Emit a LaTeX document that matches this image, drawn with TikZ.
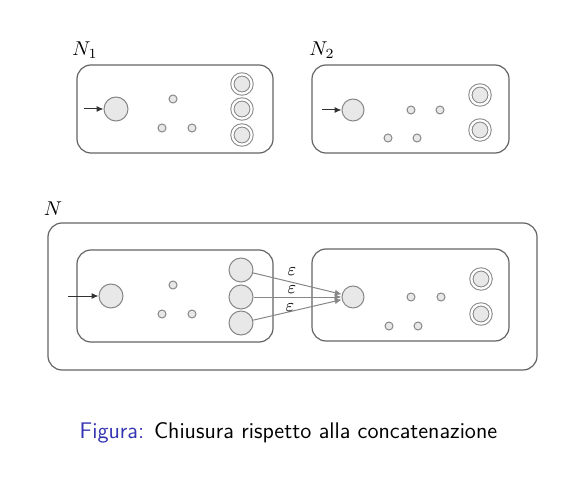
\documentclass[tikz,border=0pt]{standalone}
\usetikzlibrary{arrows.meta}
\definecolor{boxgray}{RGB}{100,100,100}
\definecolor{stgray}{RGB}{135,135,135}
\definecolor{stfill}{RGB}{232,232,232}
\definecolor{figblue}{RGB}{51,51,178}
\begin{document}
\begin{tikzpicture}[x=0.5pt,y=-0.5pt,
  box/.style={draw=boxgray, line width=0.6pt, rounded corners=7pt},
  bigst/.style={circle, draw=stgray, fill=stfill, line width=0.5pt, minimum size=12pt, inner sep=0pt},
  smallst/.style={circle, draw=stgray, fill=stfill, line width=0.5pt, minimum size=4pt, inner sep=0pt},
  accst/.style={circle, draw=stgray, fill=stfill, line width=0.5pt, minimum size=9.6pt, inner sep=0pt, double=white, double distance=1.1pt},
  initarr/.style={-{Latex[length=3.5pt,width=3pt]}, line width=0.5pt, draw=black!80},
  epsarr/.style={-{Latex[length=3.5pt,width=3pt]}, line width=0.5pt, draw=stgray},
  lbl/.style={inner sep=0pt},
  epslbl/.style={font=\small, inner sep=0pt}]
\useasboundingbox (0,0) rectangle (588,486);

% ---------- N1 ----------
\node[lbl] (labN1) at (85,50) {$N_1$};
\draw[box] (77,65) rectangle (273,153);
\node[bigst] (a0) at (116,109) {};
\coordinate (a0in) at (84,109);
\node[smallst] (a1) at (173,99) {};
\node[smallst] (a2) at (162,128) {};
\node[smallst] (a3) at (192,128) {};
\node[accst] (af1) at (242,84) {};
\node[accst] (af2) at (242,109) {};
\node[accst] (af3) at (242,135) {};
\draw[initarr] (a0in) -- (a0);

% ---------- N2 ----------
\node[lbl] (labN2) at (322,50) {$N_2$};
\draw[box] (312,65) rectangle (509,153);
\node[bigst, minimum size=11pt] (b0) at (353,110) {};
\coordinate (b0in) at (322,110);
\node[smallst] (b1) at (411,110) {};
\node[smallst] (b2) at (440,110) {};
\node[smallst] (b3) at (388,138) {};
\node[smallst] (b4) at (417,138) {};
\node[accst] (bf1) at (480,95) {};
\node[accst] (bf2) at (480,130) {};
\draw[initarr] (b0in) -- (b0);

% ---------- N ----------
\node[lbl] (labN) at (53,209) {$N$};
\draw[box] (48,223) rectangle (537,370);

% inner N1
\draw[box] (77,250) rectangle (273,342);
\node[bigst] (c0) at (111,296) {};
\coordinate (c0in) at (68,296);
\node[smallst] (c1) at (173,285) {};
\node[smallst] (c2) at (162,314) {};
\node[smallst] (c3) at (192,314) {};
\node[bigst] (cf1) at (241,270) {};
\node[bigst] (cf2) at (241,297) {};
\node[bigst] (cf3) at (241,323) {};
\draw[initarr] (c0in) -- (c0);

% inner N2
\draw[box] (312,249) rectangle (509,341);
\node[bigst, minimum size=11pt] (d0) at (353,297) {};
\node[smallst] (d1) at (411,297) {};
\node[smallst] (d2) at (441,297) {};
\node[smallst] (d3) at (389,326) {};
\node[smallst] (d4) at (418,326) {};
\node[accst] (df1) at (481,279) {};
\node[accst] (df2) at (481,314) {};

% epsilon transitions
\draw[epsarr] (cf1) -- (d0);
\draw[epsarr] (cf2) -- (d0);
\draw[epsarr] (cf3) -- (d0);
\node[epslbl] (e1) at (292,272) {$\varepsilon$};
\node[epslbl] (e2) at (292,290) {$\varepsilon$};
\node[epslbl] (e3) at (290,308) {$\varepsilon$};

% caption
\node[font=\fontsize{11.3}{13.5}\sffamily, inner sep=0pt] (cap) at (288.5,433)
  {\textcolor{figblue}{Figura:} Chiusura rispetto alla concatenazione};
\end{tikzpicture}
\end{document}
